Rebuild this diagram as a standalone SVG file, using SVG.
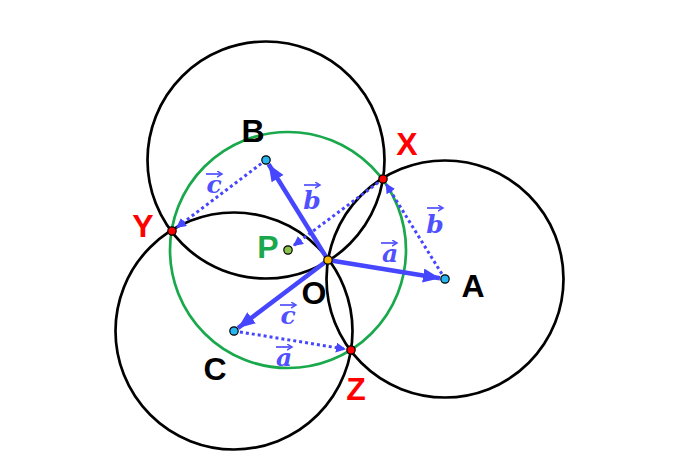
<svg xmlns="http://www.w3.org/2000/svg" width="680" height="476" viewBox="0 0 680 476">
<style>
.circ{fill:none;stroke:#000;stroke-width:2.7}
.green{fill:none;stroke:#1aa84c;stroke-width:2.7}
.vec{stroke:#4646ff;stroke-width:4.5;fill:none}
.dot{stroke:#4646ff;stroke-width:3;fill:none;stroke-dasharray:3 3}
.pt{stroke:#000;stroke-width:1.2}
.lbl{font-family:"Liberation Sans",Arial,sans-serif;font-weight:bold;font-size:32px;text-anchor:middle}
.vl{font-family:"DejaVu Serif","Liberation Serif",serif;font-style:italic;font-weight:bold;font-size:25px;fill:#5050ff;text-anchor:middle}
.va{stroke:#5050ff;stroke-width:1.7;fill:none}
</style>
<defs>
<marker id="big" markerUnits="userSpaceOnUse" markerWidth="20" markerHeight="16" refX="17" refY="7" orient="auto">
<path d="M0,0 L17,7 L0,14 Z" fill="#4646ff"/>
</marker>
<marker id="small" markerUnits="userSpaceOnUse" markerWidth="12" markerHeight="12" refX="10" refY="5" orient="auto">
<path d="M0,0 L10,5 L0,10 Z" fill="#4646ff"/>
</marker>
<marker id="tiny" markerUnits="userSpaceOnUse" markerWidth="8" markerHeight="8" refX="5" refY="3" orient="auto">
<path d="M0,0 L5,3 L0,6" fill="none" stroke="#5050ff" stroke-width="1.5"/>
</marker>
</defs>
<rect width="680" height="476" fill="#fff"/>
<g id="circles">
<circle id="circleA" class="circ" cx="445" cy="279" r="118.5"/>
<circle id="circleB" class="circ" cx="266" cy="160" r="118.5"/>
<circle id="circleC" class="circ" cx="234" cy="331" r="118.5"/>
<circle id="circleP" class="green" cx="288" cy="250" r="118"/>
</g>
<g id="connectors">
<line class="vec" x1="328" y1="260" x2="440" y2="278.2" marker-end="url(#big)"/>
<line class="vec" x1="328" y1="260" x2="268.6" y2="164.2" marker-end="url(#big)"/>
<line class="vec" x1="328" y1="260" x2="238" y2="328" marker-end="url(#big)"/>
<line class="dot" x1="266" y1="160" x2="176" y2="228" marker-end="url(#small)"/>
<line class="dot" x1="445" y1="279" x2="385.6" y2="183.2" marker-end="url(#small)"/>
<line class="dot" x1="234" y1="331" x2="346" y2="349.2" marker-end="url(#small)"/>
<line class="dot" x1="383" y1="179" x2="293" y2="246" marker-end="url(#small)"/>
</g>
<g id="nodeA"><circle class="pt" cx="445" cy="279" r="4.2" fill="#29b6f0"/><text class="lbl" x="473" y="297">A</text></g>
<g id="nodeB"><circle class="pt" cx="266" cy="160" r="4.2" fill="#29b6f0"/><text class="lbl" x="253" y="142">B</text></g>
<g id="nodeC"><circle class="pt" cx="234" cy="331" r="4.2" fill="#29b6f0"/><text class="lbl" x="215" y="380">C</text></g>
<g id="nodeO"><circle class="pt" cx="328" cy="260" r="4.2" fill="#f5b400"/><text class="lbl" x="314" y="304">O</text></g>
<g id="nodeP"><circle class="pt" cx="288" cy="250" r="4.2" fill="#8bc34a"/><text class="lbl" x="268" y="258" fill="#1aa84c">P</text></g>
<g id="nodeX"><circle class="pt" cx="383" cy="179" r="4.2" fill="#f00"/><text class="lbl" x="407" y="155" fill="#f00">X</text></g>
<g id="nodeY"><circle class="pt" cx="172" cy="231" r="4.2" fill="#f00"/><text class="lbl" x="143" y="237" fill="#f00">Y</text></g>
<g id="nodeZ"><circle class="pt" cx="351" cy="350" r="4.2" fill="#f00"/><text class="lbl" x="356" y="400" fill="#f00">Z</text></g>
<g id="vectorLabels">
<text class="vl" x="214" y="193">c</text><line class="va" x1="206" y1="174" x2="222" y2="174" marker-end="url(#tiny)"/>
<text class="vl" x="312" y="209">b</text><line class="va" x1="304" y1="185" x2="320" y2="185" marker-end="url(#tiny)"/>
<text class="vl" x="435" y="233">b</text><line class="va" x1="427" y1="208" x2="443" y2="208" marker-end="url(#tiny)"/>
<text class="vl" x="390" y="262">a</text><line class="va" x1="381" y1="243" x2="397" y2="243" marker-end="url(#tiny)"/>
<text class="vl" x="288" y="324">c</text><line class="va" x1="280" y1="305" x2="296" y2="305" marker-end="url(#tiny)"/>
<text class="vl" x="284" y="366">a</text><line class="va" x1="276" y1="347" x2="292" y2="347" marker-end="url(#tiny)"/>
</g>
</svg>
